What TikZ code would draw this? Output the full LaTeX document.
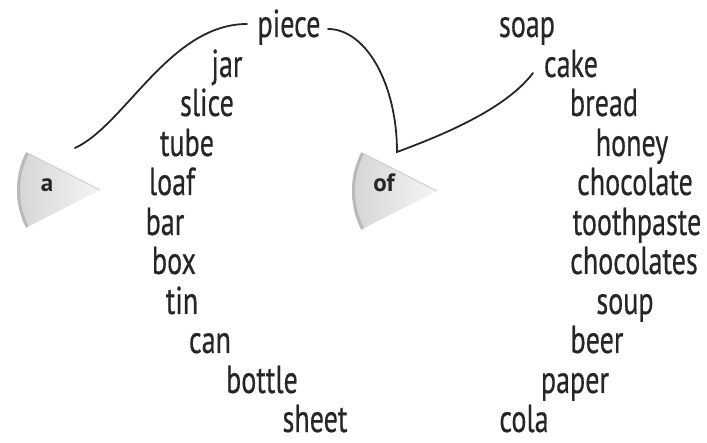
\documentclass[tikz,border=0pt]{standalone}
\usepackage{fontspec}
\setmainfont[FakeStretch=0.72,FakeBold=0.4]{PT Sans}
\newfontfamily\lblfont{PT Sans}
\definecolor{ink}{HTML}{262626}
\begin{document}
\begin{tikzpicture}[x=1pt,y=-1pt,
  word/.style={anchor=base,inner sep=0pt,text=ink,font=\fontsize{39}{40}\selectfont},
  lbl/.style={anchor=base,inner sep=0pt,text=ink,font=\lblfont\bfseries\fontsize{25}{27}\selectfont},
  link/.style={draw=ink,line width=1.8pt,line cap=round},
  wedgefill/.style={left color=gray!34,right color=gray!8},
  wedgerim/.style={draw=gray!55,line width=3pt},
  wedgeedge/.style={draw=gray!38,line width=1pt}]
\useasboundingbox (0,0) rectangle (707,443);

% wedges
\shade[wedgefill] (100,190) -- ++(153:83) arc[start angle=153,end angle=207,radius=83] -- cycle;
\draw[wedgerim] ([shift={(153:81.5)}]100,190) arc[start angle=153,end angle=207,radius=81.5];
\draw[wedgeedge] ([shift={(207:82)}]100,190) -- (100,190);
\shade[wedgefill] (437,191) -- ++(153:85) arc[start angle=153,end angle=207,radius=85] -- cycle;
\draw[wedgerim] ([shift={(153:83.5)}]437,191) arc[start angle=153,end angle=207,radius=83.5];
\draw[wedgeedge] ([shift={(207:84)}]437,191) -- (437,191);
\node[lbl] (a) at (47,192) {a};
\node[lbl] (of) at (384,192) {of};

% left column
\node[word] (piece) at (289,37) {piece};
\node[word] (jar) at (227,77) {jar};
\node[word] (slice) at (207,116) {slice};
\node[word] (tube) at (187,156) {tube};
\node[word] (loaf) at (172,195) {loaf};
\node[word] (bar) at (165,235) {bar};
\node[word] (box) at (174,274) {box};
\node[word] (tin) at (182,314) {tin};
\node[word] (can) at (210,353) {can};
\node[word] (bottle) at (262,393) {bottle};
\node[word] (sheet) at (315,432) {sheet};

% right column
\node[word] (soap) at (527,37) {soap};
\node[word] (cake) at (571,77) {cake};
\node[word] (bread) at (604,116) {bread};
\node[word] (honey) at (632,156) {honey};
\node[word] (chocolate) at (635,195) {chocolate};
\node[word] (toothpaste) at (637,235) {toothpaste};
\node[word] (chocolates) at (634,274) {chocolates};
\node[word] (soup) at (625,314) {soup};
\node[word] (beer) at (597,353) {beer};
\node[word] (paper) at (575,393) {paper};
\node[word] (cola) at (524,432) {cola};

% connector ends
\coordinate (aTip) at (75,148);
\coordinate (pieceL) at (247,24);
\coordinate (pieceR) at (328,29);
\coordinate (ofTop) at (397,152);
\coordinate (cakeL) at (533,73);

\draw[link] (aTip) .. controls (125,125) and (170,24) .. (pieceL);
\draw[link] (pieceR) .. controls (366,29) and (397,84) .. (ofTop)
  .. controls (440,136) and (505,110) .. (cakeL);
\end{tikzpicture}
\end{document}
